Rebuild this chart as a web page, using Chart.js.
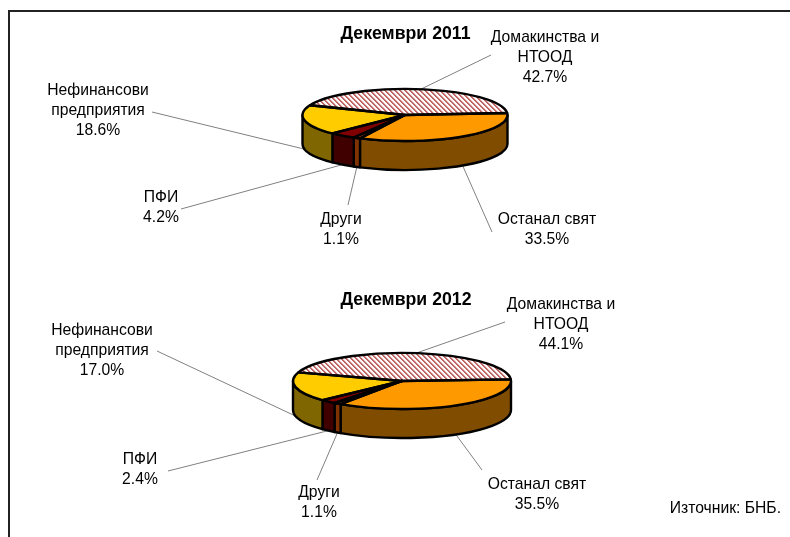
<!DOCTYPE html>
<html>
<head>
<meta charset="utf-8">
<style>
html, body { margin: 0; padding: 0; background: #fff; overflow: hidden; }
#page { position: relative; width: 790px; height: 537px; }
#frame { position: absolute; left: 8px; top: 10px; right: 0; bottom: 0; border-left: 2px solid #222; border-top: 2px solid #222; }
canvas { position: absolute; left: 0; top: 0; }
</style>
</head>
<body>
<div id="page">
  <div id="frame"></div>
  <canvas id="pie2011" width="790" height="537"></canvas>
  <canvas id="pie2012" width="790" height="537"></canvas>
</div>
<script src="https://cdn.jsdelivr.net/npm/chart.js"></script>
<script>
const categories = ['Домакинства и НТООД', 'Останал свят', 'Други', 'ПФИ', 'Нефинансови предприятия'];
const values2011 = [42.7, 33.5, 1.1, 4.2, 18.6];
const values2012 = [44.1, 35.5, 1.1, 2.4, 17.0];
const sourceNote = 'Източник: БНБ.';

const labelLines = [['Домакинства и', 'НТООД'], ['Останал свят'], ['Други'], ['ПФИ'], ['Нефинансови', 'предприятия']];
const topColors = ['#ffffff', '#ff9900', '#ff6600', '#800000', '#ffcc00'];
const sideColors = ['#808080', '#804c00', '#803300', '#400000', '#806600'];
const FONT = '15.7px "Liberation Sans", Arial, sans-serif';

// squashes the flat pie into an ellipse and adds the wall, outlines, leaders and texts
const pie3d = {
  id: 'pie3d',
  beforeDatasetsDraw(chart, args, o) {
    const ctx = chart.ctx;
    const arcs = chart.getDatasetMeta(0).data;
    const { x, y, outerRadius: r } = arcs[0];
    const ry = r * o.squash;

    // leader lines
    ctx.save();
    ctx.strokeStyle = '#808080';
    ctx.lineWidth = 1;
    arcs.forEach((arc, i) => {
      const mid = (arc.startAngle + arc.endAngle) / 2;
      const sin = Math.sin(mid);
      ctx.beginPath();
      ctx.moveTo(o.labels[i].lx, o.labels[i].ly);
      ctx.lineTo(x + r * Math.cos(mid), y + ry * sin + (sin > 0 ? o.depth : 0));
      ctx.stroke();
    });

    // front wall
    ctx.strokeStyle = '#000';
    ctx.lineWidth = 2.4;
    ctx.lineJoin = 'round';
    arcs.forEach((arc, i) => {
      const a0 = Math.max(arc.startAngle, 0);
      const a1 = Math.min(arc.endAngle, Math.PI);
      if (a1 <= a0) return;
      ctx.beginPath();
      ctx.ellipse(x, y, r, ry, 0, a0, a1);
      ctx.ellipse(x, y + o.depth, r, ry, 0, a1, a0, true);
      ctx.closePath();
      ctx.fillStyle = sideColors[i];
      ctx.fill();
      ctx.stroke();
    });
    ctx.restore();

    ctx.save();
    ctx.imageSmoothingEnabled = false;
    ctx.translate(x, y);
    ctx.scale(1, o.squash);
    ctx.translate(-x, -y);
  },
  afterDatasetsDraw(chart, args, o) {
    const ctx = chart.ctx;
    ctx.restore();
    const arcs = chart.getDatasetMeta(0).data;
    const { x, y, outerRadius: r } = arcs[0];

    ctx.save();
    ctx.strokeStyle = '#000';
    ctx.lineWidth = 2.4;
    ctx.lineJoin = 'round';
    arcs.forEach(arc => {
      ctx.beginPath();
      ctx.moveTo(x, y);
      ctx.ellipse(x, y, r, r * o.squash, 0, arc.startAngle, arc.endAngle);
      ctx.closePath();
      ctx.stroke();
    });
    ctx.restore();

    // title and labels
    ctx.save();
    ctx.fillStyle = '#000';
    ctx.textAlign = 'center';
    ctx.textBaseline = 'middle';
    ctx.font = 'bold 17.7px "Liberation Sans", Arial, sans-serif';
    ctx.fillText(o.title, o.titleX, o.titleY);
    ctx.font = FONT;
    const values = chart.data.datasets[0].data;
    o.labels.forEach((p, i) => {
      const lines = labelLines[i].concat(values[i].toFixed(1) + '%');
      lines.forEach((t, j) => ctx.fillText(t, p.x, p.y + j * 20));
    });
    if (o.note) {
      ctx.textAlign = 'right';
      ctx.fillText(o.note, 781, 509);
    }
    ctx.restore();
  }
};

function hatch(squash) {
  const tile = document.createElement('canvas');
  tile.width = tile.height = 5;
  const t = tile.getContext('2d');
  t.fillStyle = '#fff';
  t.fillRect(0, 0, 5, 5);
  for (let i = 0; i < 5; i++) {
    t.fillStyle = '#c06868';
    t.fillRect(i % 5, i, 1, 1);
    t.fillRect((i + 1) % 5, i, 1, 1);
    t.fillStyle = '#efd0d0';
    t.fillRect((i + 2) % 5, i, 1, 1);
  }
  const pattern = t.createPattern(tile, 'repeat');
  pattern.setTransform(new DOMMatrix().scale(1, 1 / squash));
  return pattern;
}

function drawPie(id, values, rotation, radius, padding, opts) {
  return new Chart(document.getElementById(id), {
    type: 'pie',
    data: {
      labels: categories,
      datasets: [{
        data: values,
        backgroundColor: [hatch(opts.squash)].concat(topColors.slice(1)),
        borderWidth: 0
      }]
    },
    options: {
      responsive: false,
      animation: false,
      rotation: rotation,
      radius: radius,
      layout: { padding: padding },
      plugins: { legend: { display: false }, tooltip: { enabled: false }, pie3d: opts }
    },
    plugins: [pie3d]
  });
}

drawPie('pie2011', values2011, -68, 102.5, { left: 20, right: 0, top: 0, bottom: 307 }, {
  title: 'Декември 2011', titleX: 405.5, titleY: 34.5, squash: 0.254, depth: 29,
  labels: [
    { x: 545, y: 37.5, lx: 491, ly: 55 },
    { x: 547, y: 219.5, lx: 492, ly: 232 },
    { x: 341, y: 219.5, lx: 348, ly: 205 },
    { x: 161, y: 197.5, lx: 181, ly: 209 },
    { x: 98, y: 90.5, lx: 152, ly: 112 }
  ]
});

drawPie('pie2012', values2012, -72, 109, { left: 14, right: 0, top: 225, bottom: 0 }, {
  title: 'Декември 2012', titleX: 406, titleY: 300.5, squash: 0.257, depth: 29, note: sourceNote,
  labels: [
    { x: 561, y: 304.5, lx: 505, ly: 322 },
    { x: 537, y: 484.5, lx: 482, ly: 470 },
    { x: 319, y: 492.5, lx: 317, ly: 480 },
    { x: 140, y: 459.5, lx: 168, ly: 471 },
    { x: 102, y: 330.5, lx: 157, ly: 351 }
  ]
});
</script>
</body>
</html>
